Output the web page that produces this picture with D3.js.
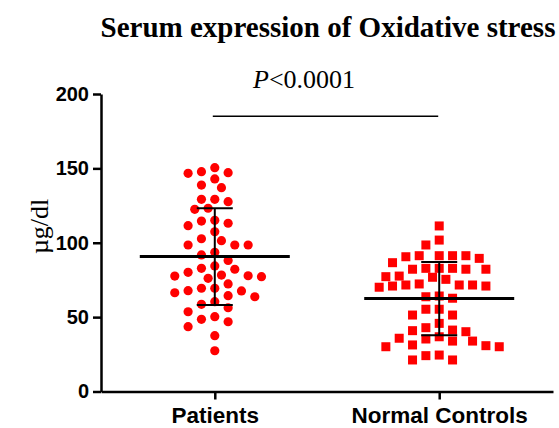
<!DOCTYPE html>
<html>
<head>
<meta charset="utf-8">
<script src="https://cdn.jsdelivr.net/npm/d3@7"></script>
<style>
  body { margin: 0; background: #fff; }
</style>
</head>
<body>
<div id="chart"></div>
<script>
// chart data (µg/dl)
var groups = ["Patients", "Normal Controls"];
var patients = [150.5, 147.8, 147.1, 146.7, 142.9, 138.8, 137.0, 129.2, 129.2, 127.6,
  123.2, 122.5, 115.1, 114.6, 113.1, 111.5, 107.4, 102.7, 101.4, 98.5, 98.5, 98.5,
  93.6, 91.8, 88.1, 84.4, 82.8, 82.2, 80.1, 78.3, 77.8, 77.6, 77.2, 76.1, 72.3,
  69.4, 69.4, 67.8, 67.6, 66.4, 64.4, 63.7, 60.4, 58.6, 56.3, 53.6, 50.3, 48.5,
  46.9, 43.6, 37.5, 27.4];
var controls = [111.3, 101.8, 98.5, 90.6, 91.3, 91.3, 91.3, 91.3, 89.5, 86.6,
  82.8, 82.8, 82.8, 82.2, 82.2, 82.2, 77.2, 76.8, 77.6, 75.4, 71.6, 71.6, 71.6,
  70.9, 70.9, 72.3, 70.1, 64.2, 62.7, 63.7, 55.3, 55.3, 51.4, 51.4, 45.8, 41.3,
  40.2, 40.9, 42.9, 36.8, 35.8, 33.9, 33.9, 30.1, 30.1, 30.8, 31.3, 35.3, 24.1,
  21.2, 21.2, 24.5];
var yTicks = [0, 50, 100, 150, 200];
var pLabel = "<0.0001";

var svgWidth = 559;
var svgHeight = 428;

var svg = d3.select("#chart")
  .append("svg")
  .attr("width", svgWidth)
  .attr("height", svgHeight);

// scales
var xScale = d3.scalePoint()
  .domain(groups)
  .range([101, 553])
  .padding(0.507);

var yScale = d3.scaleLinear()
  .domain([0, 200])
  .range([391.5, 94]);

// simple beeswarm: place points column by column so they do not overlap
function swarm(values, cx, step, minDist) {
  var placed = [];
  var out = [];
  var order = values.map((v, i) => i).sort((a, b) => values[b] - values[a]);
  order.forEach(function(i) {
    var py = yScale(values[i]);
    for (var k = 0; k < 40; k++) {
      var cands = k === 0 ? [0] : [-k, k];
      var hit = null;
      for (var j = 0; j < cands.length; j++) {
        var px = cx + cands[j] * step;
        var ok = placed.every(p => Math.hypot(p.x - px, p.y - py) >= minDist);
        if (ok) { hit = px; break; }
      }
      if (hit !== null) {
        placed.push({x: hit, y: py});
        out.push({x: hit, y: py, v: values[i]});
        break;
      }
    }
  });
  return out;
}

var pPts = swarm(patients, xScale("Patients"), 6.67, 11);
var cPts = swarm(controls, xScale("Normal Controls"), 6.67, 11);

// points
svg.append("g")
  .selectAll("circle")
  .data(pPts)
  .enter()
  .append("circle")
  .attr("cx", d => d.x)
  .attr("cy", d => d.y)
  .attr("r", 4.6)
  .attr("fill", "#ff0000");

svg.append("g")
  .selectAll("rect")
  .data(cPts)
  .enter()
  .append("rect")
  .attr("x", d => d.x - 4.5)
  .attr("y", d => d.y - 4.5)
  .attr("width", 9)
  .attr("height", 9)
  .attr("fill", "#ff0000");

// mean and SD
var stats = [
  {g: "Patients", values: patients},
  {g: "Normal Controls", values: controls}
].map(function(s) {
  return {g: s.g, mean: d3.mean(s.values), sd: d3.deviation(s.values)};
});

var statG = svg.append("g").attr("stroke", "#000");
stats.forEach(function(s) {
  var cx = xScale(s.g);
  statG.append("line")
    .attr("x1", cx - 75).attr("x2", cx + 75)
    .attr("y1", yScale(s.mean)).attr("y2", yScale(s.mean))
    .attr("stroke-width", 3);
  statG.append("line")
    .attr("x1", cx).attr("x2", cx)
    .attr("y1", yScale(s.mean + s.sd)).attr("y2", yScale(s.mean - s.sd))
    .attr("stroke-width", 2);
  [s.mean + s.sd, s.mean - s.sd].forEach(function(v) {
    statG.append("line")
      .attr("x1", cx - 18).attr("x2", cx + 18)
      .attr("y1", yScale(v)).attr("y2", yScale(v))
      .attr("stroke-width", 2);
  });
});

// axes
var leftAxis = d3.axisLeft(yScale).tickValues(yTicks).tickSize(8).tickSizeOuter(0).tickPadding(4);
var bottomAxis = d3.axisBottom(xScale).tickSize(8).tickSizeOuter(0).tickPadding(8);

var yAxisG = svg.append("g")
  .attr("transform", "translate(101,0)")
  .call(leftAxis);
yAxisG.selectAll("path, line").attr("stroke", "#000").attr("stroke-width", 2.5);
yAxisG.selectAll("text")
  .attr("font-family", "'Liberation Sans', Arial, sans-serif")
  .attr("font-weight", "bold")
  .attr("font-size", "20px")
  .attr("fill", "#000");

var xAxisG = svg.append("g")
  .attr("transform", "translate(0,391.5)")
  .call(bottomAxis);
xAxisG.selectAll("path, line").attr("stroke", "#000").attr("stroke-width", 2.5);
xAxisG.selectAll("text")
  .attr("font-family", "'Liberation Sans', Arial, sans-serif")
  .attr("font-weight", "bold")
  .attr("font-size", "22.5px")
  .attr("fill", "#000");

// y label
svg.append("text")
  .attr("transform", "translate(48," + yScale(111) + ") rotate(-90)")
  .attr("text-anchor", "middle")
  .attr("font-family", "'Liberation Serif', 'Times New Roman', serif")
  .attr("font-size", "26px")
  .text("µg/dl");

// title
svg.append("text")
  .attr("x", 328)
  .attr("y", 37)
  .attr("text-anchor", "middle")
  .attr("font-family", "'Liberation Serif', 'Times New Roman', serif")
  .attr("font-weight", "bold")
  .attr("font-size", "29px")
  .text("Serum expression of Oxidative stress");

// significance line and p value
svg.append("line")
  .attr("x1", xScale("Patients") - 2)
  .attr("x2", xScale("Normal Controls") - 1)
  .attr("y1", yScale(185))
  .attr("y2", yScale(185))
  .attr("stroke", "#000")
  .attr("stroke-width", 1.5);

var pText = svg.append("text")
  .attr("x", 253)
  .attr("y", yScale(204))
  .attr("font-family", "'Liberation Serif', 'Times New Roman', serif")
  .attr("font-size", "26px");
pText.append("tspan").attr("font-style", "italic").text("P");
pText.append("tspan").text(pLabel);
</script>
</body>
</html>
